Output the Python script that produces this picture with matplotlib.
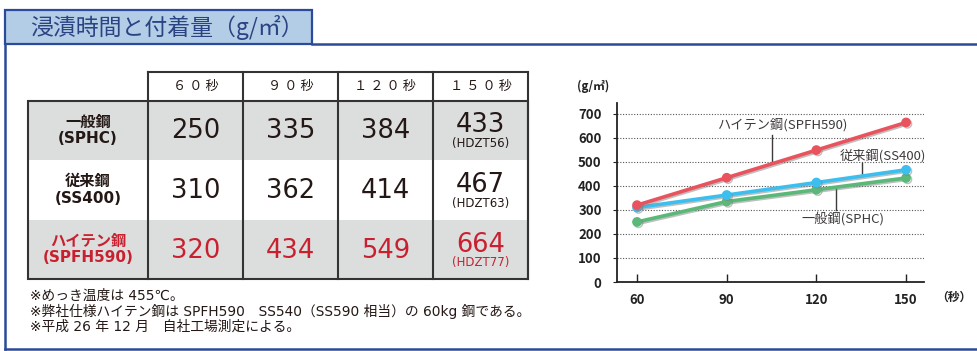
import matplotlib
matplotlib.use("Agg")
import matplotlib.pyplot as plt
from matplotlib.patches import Rectangle
import matplotlib.patheffects as pe

plt.rcParams['font.family'] = ['Noto Sans CJK JP', 'DejaVu Sans']
WIDE = ['DejaVu Sans', 'Noto Sans CJK JP']

# データ
seconds = [60, 90, 120, 150]
col_labels = ["６０秒", "９０秒", "１２０秒", "１５０秒"]
row_names = ["一般鋼\n(SPHC)", "従来鋼\n(SS400)", "ハイテン鋼\n(SPFH590)"]
sphc = [250, 335, 384, 433]
ss400 = [310, 362, 414, 467]
spfh590 = [320, 434, 549, 664]
hdzt = ["(HDZT56)", "(HDZT63)", "(HDZT77)"]
notes = [
    "※めっき温度は 455℃。",
    "※弊社仕様ハイテン鋼は SPFH590　SS540（SS590 相当）の 60kg 鋼である。",
    "※平成 26 年 12 月　自社工場測定による。",
]
line_labels = ["一般鋼(SPHC)", "従来鋼(SS400)", "ハイテン鋼(SPFH590)"]

W, H = 978, 351
NAVY = "#2b4a9b"
RED = "#c9202f"
TXT = "#231815"

fig = plt.figure(figsize=(W / 100, H / 100), dpi=100)
bg = fig.add_axes([0, 0, 1, 1])
bg.set_xlim(0, W)
bg.set_ylim(H, 0)
bg.axis("off")

# 見出しタブと枠線
bg.add_patch(Rectangle((5, 10), 307, 34, facecolor="#b4cde6", edgecolor=NAVY, lw=1.6))
bg.plot([312, W], [44, 44], color=NAVY, lw=1.8)
bg.plot([5, 5], [44, 349], color=NAVY, lw=1.8)
bg.plot([5, W], [349, 349], color=NAVY, lw=1.8)
bg.text(30, 27, "浸漬時間と付着量（g/㎡）", fontsize=16.5, color="#2a4383", va="center", ha="left")

# 表
col_x = [148, 243, 338, 433, 528]
row_y = [101, 160, 220, 279]
left_x = 28
head_top = 72
fills = ["#dcdddd", "white", "#dcdddd"]
table = [sphc, ss400, spfh590]
for i in range(3):
    bg.add_patch(Rectangle((left_x, row_y[i]), col_x[-1] - left_x, row_y[i + 1] - row_y[i],
                           facecolor=fills[i], edgecolor="none"))
# 罫線
bg.add_patch(Rectangle((left_x, row_y[0]), col_x[-1] - left_x, row_y[-1] - row_y[0],
                       facecolor="none", edgecolor="#333333", lw=1.5))
bg.plot([col_x[0], col_x[-1]], [head_top, head_top], color="#333333", lw=1.5)
for x in col_x:
    bg.plot([x, x], [head_top, row_y[-1]], color="#333333", lw=1.5)

for j, lab in enumerate(col_labels):
    cx = (col_x[j] + col_x[j + 1]) / 2
    bg.text(cx, (head_top + row_y[0]) / 2, " ".join(lab), fontsize=9.5, color=TXT,
            ha="center", va="center")

for i in range(3):
    color = RED if i == 2 else TXT
    cy = (row_y[i] + row_y[i + 1]) / 2
    bg.text((left_x + col_x[0]) / 2, cy, row_names[i], fontsize=11, fontweight="bold",
            color=color, ha="center", va="center", linespacing=1.15, family=WIDE)
    for j, v in enumerate(table[i]):
        cx = (col_x[j] + col_x[j + 1]) / 2
        if j == 3:
            bg.text(cx, cy - 5, str(v), fontsize=18.5, color=color, ha="center", va="center",
                    family=WIDE)
            bg.text(cx, cy + 13, hdzt[i], fontsize=8.5, color=color, ha="center", va="center",
                    family=WIDE)
        else:
            bg.text(cx, cy + 1, str(v), fontsize=18.5, color=color, ha="center", va="center",
                    family=WIDE)

for k, note in enumerate(notes):
    bg.text(30, 296 + k * 15.5, note, fontsize=9.9, color=TXT, ha="left", va="center",
            family=WIDE)

# グラフ
ax = fig.add_axes([617 / W, (H - 282) / H, (924 - 617) / W, (282 - 103) / H])
ax.set_xlim(53.3, 156)
ax.set_ylim(0, 745)
shadow = [pe.SimpleLineShadow(offset=(1, -1), shadow_color="gray", alpha=0.5), pe.Normal()]
for vals, c in [(sphc, "#5ab878"), (ss400, "#3cbfee"), (spfh590, "#e9535d")]:
    ax.plot(seconds, vals, color=c, lw=2.6, marker="o", ms=6, zorder=3, path_effects=shadow)

ax.set_yticks(range(0, 701, 100))
ax.set_xticks(seconds)
for y in range(100, 701, 100):
    ax.axhline(y, color="#555555", lw=0.8, ls=(0, (1, 1.5)), zorder=1)
for s in ["top", "right"]:
    ax.spines[s].set_visible(False)
for s in ["left", "bottom"]:
    ax.spines[s].set_color("#222222")
    ax.spines[s].set_linewidth(1.3)
ax.tick_params(axis="x", direction="in", length=6, width=1, pad=8, labelsize=9.5,
               colors="#222222")
ax.tick_params(axis="y", direction="out", length=3, width=0.8, pad=8, labelsize=9.5,
               colors="#222222")
for t in ax.get_xticklabels() + ax.get_yticklabels():
    t.set_fontweight("bold")

ax.text(-0.13, 1.09, "(g/㎡)", transform=ax.transAxes, fontsize=8.5, fontweight="bold",
        color="#222222", ha="left", va="center")
ax.text(1.04, -0.086, "（秒）", transform=ax.transAxes, fontsize=8.5, fontweight="bold",
        color="#222222", ha="left", va="center")

# 系列ラベルと引出線
ann = [(128.9, 262, 126.6, 396, 300), (142.3, 525, 135.3, 496, 442), (108.5, 654, 105.2, 612, 500)]
for lab, (tx, ty, lx, y0, y1) in zip(line_labels, ann):
    ax.text(tx, ty, lab, fontsize=9.5, color="#3e3a39", ha="center", va="center", zorder=4)
    ax.plot([lx, lx], [y0, y1], color="#3e3a39", lw=1, zorder=2)

fig.savefig("out.png", dpi=100)
